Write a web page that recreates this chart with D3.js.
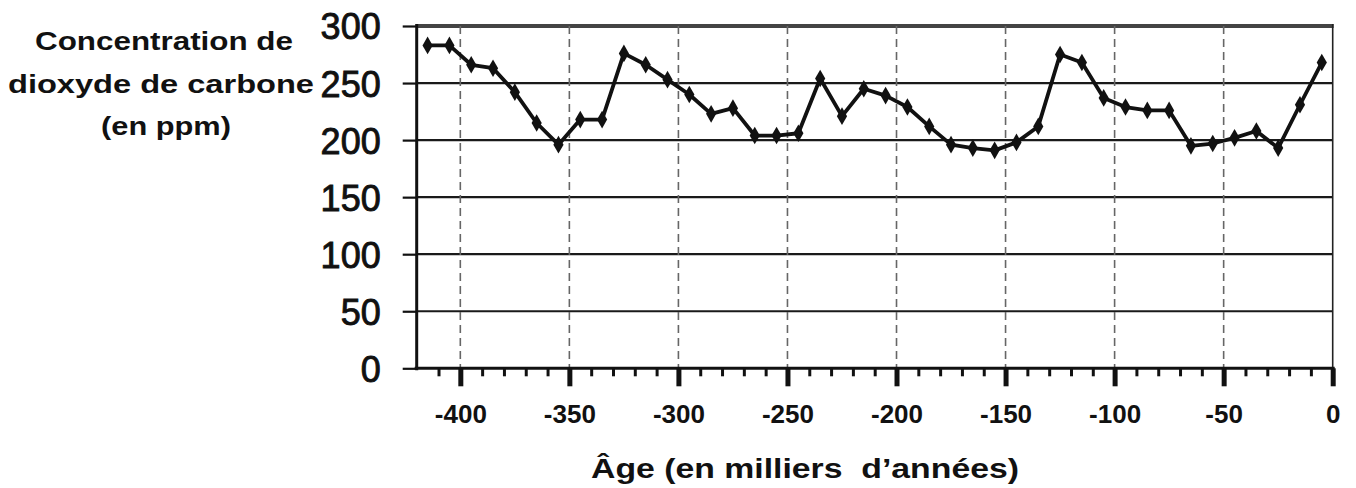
<!DOCTYPE html>
<html><head><meta charset="utf-8">
<script src="https://cdn.jsdelivr.net/npm/d3@7"></script>
<style>
body{margin:0;background:#fff}
svg{display:block}
text{font-family:"Liberation Sans",Arial,Helvetica,sans-serif;fill:#111}
</style></head>
<body><svg width="1356" height="488"></svg>
<script>
// ---- data ----
const ages = [-415,-405,-395,-385,-375,-365,-355,-345,-335,-325,-315,-305,-295,-285,-275,-265,-255,-245,-235,-225,-215,-205,-195,-185,-175,-165,-155,-145,-135,-125,-115,-105,-95,-85,-75,-65,-55,-45,-35,-25,-15,-5];
const co2  = [283,283,266,263,242,215,196,218,218,276,266,253,240,223,228,204,204,206,254,221,245,239,229,212,196,193,191,198,212,275,268,237,229,226,226,195,197,202,208,193,231,268];
const yTicks = [0,50,100,150,200,250,300];
const xTicks = [-400,-350,-300,-250,-200,-150,-100,-50,0];
const xMinorTicks = [-410,-390,-380,-370,-360,-340,-330,-320,-310,-290,-280,-270,-260,-240,-230,-220,-210,-190,-180,-170,-160,-140,-130,-120,-110,-90,-80,-70,-60,-40,-30,-20,-10];
const yTitleLines = ["Concentration de","dioxyde de carbone","(en ppm)"];
const xTitle = "Âge (en milliers  d\u2019années)";

const svg = d3.select("svg");
const x = d3.scaleLinear().domain([-420,0]).range([416.7,1332.7]);
const y = d3.scaleLinear().domain([0,300]).range([368.3,26]);
const data = ages.map((a,i)=>({a, v:co2[i]}));

// horizontal gridlines
svg.append("g").selectAll("line").data(yTicks.filter(t=>t>0 && t<300)).join("line")
  .attr("x1",x(-420)).attr("x2",x(0)).attr("y1",d=>y(d)).attr("y2",d=>y(d))
  .attr("stroke","#1a1a1a").attr("stroke-width",2.2);
// top border (300)
svg.append("line").attr("x1",x(-420)).attr("x2",x(0)+1).attr("y1",y(300)).attr("y2",y(300))
  .attr("stroke","#444").attr("stroke-width",4);
// vertical dashed gridlines
svg.append("g").selectAll("line").data(xTicks.filter(t=>t<0)).join("line")
  .attr("x1",d=>x(d)).attr("x2",d=>x(d)).attr("y1",y(300)).attr("y2",y(0))
  .attr("stroke","#666").attr("stroke-width",1.6).attr("stroke-dasharray","8,5");
// right border
svg.append("line").attr("x1",x(0)).attr("x2",x(0)).attr("y1",y(300)-2).attr("y2",y(0))
  .attr("stroke","#222").attr("stroke-width",1.6);

// y axis
const gy = svg.append("g").attr("transform",`translate(${x(-420)},0)`)
  .call(d3.axisLeft(y).tickValues(yTicks).tickSize(14).tickPadding(22).tickFormat(d=>String(d)));
gy.select(".domain").attr("stroke","#111").attr("stroke-width",3).attr("d",`M0,${y(300)-2}V${y(0)+2}`);
gy.selectAll(".tick line").attr("stroke","#111").attr("stroke-width",2.2);
gy.selectAll(".tick text").attr("font-size",36).attr("font-family","'Liberation Sans',Arial,sans-serif")
  .attr("fill","#111").attr("stroke","#111").attr("stroke-width",0.9).attr("dy","0.36em");

// x axis: minor ticks
const gxm = svg.append("g").attr("transform",`translate(0,${y(0)})`)
  .call(d3.axisBottom(x).tickValues(xMinorTicks).tickSize(8).tickFormat(""));
gxm.select(".domain").remove();
gxm.selectAll(".tick line").attr("stroke","#111").attr("stroke-width",3);
// x axis: major ticks + labels
const gx = svg.append("g").attr("transform",`translate(0,${y(0)})`)
  .call(d3.axisBottom(x).tickValues(xTicks).tickSize(18).tickFormat(d=>String(d)));
gx.select(".domain").attr("stroke","#111").attr("stroke-width",3).attr("d",`M${x(-420)-2},0H${x(0)+2}`);
gx.selectAll(".tick line").attr("stroke","#111").attr("stroke-width",5);
gx.selectAll(".tick text").attr("font-size",26).attr("font-weight","bold")
  .attr("font-family","'Liberation Sans',Arial,sans-serif").attr("fill","#111")
  .attr("y",54.5).attr("dy",0);

// line
svg.append("path").datum(data)
  .attr("d",d3.line().x(d=>x(d.a)).y(d=>y(d.v)))
  .attr("fill","none").attr("stroke","#111").attr("stroke-width",3.8).attr("stroke-linejoin","round");
// markers
svg.append("g").selectAll("path").data(data).join("path")
  .attr("transform",d=>`translate(${x(d.a)},${y(d.v)})`)
  .attr("d",d3.symbol(d3.symbolDiamond,90))
  .attr("fill","#111");

// y title (left, centered)
const tl = [{t:yTitleLines[0],cx:164,by:50,w:258},{t:yTitleLines[1],cx:161,by:93,w:306},{t:yTitleLines[2],cx:166,by:135,w:130}];
svg.append("g").selectAll("text").data(tl).join("text")
  .attr("x",d=>d.cx).attr("y",d=>d.by).attr("text-anchor","middle")
  .attr("font-size",25).attr("font-weight","bold")
  .attr("textLength",d=>d.w).attr("lengthAdjust","spacingAndGlyphs")
  .text(d=>d.t);

// x title
svg.append("text").attr("x",805).attr("y",478).attr("text-anchor","middle")
  .attr("font-size",28).attr("font-weight","bold")
  .attr("textLength",428).attr("lengthAdjust","spacingAndGlyphs")
  .style("white-space","pre")
  .text(xTitle);
</script></body></html>
